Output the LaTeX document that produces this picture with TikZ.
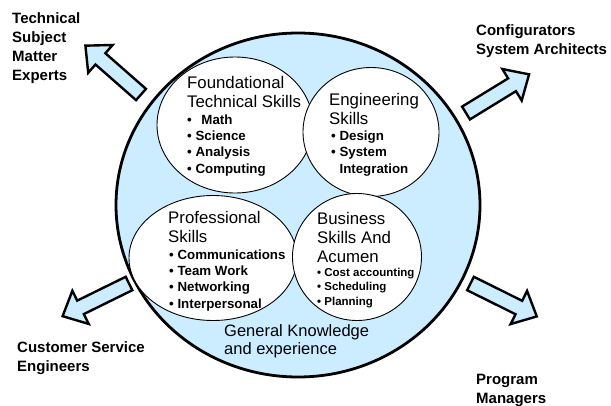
\documentclass[tikz,border=0pt]{standalone}
\usepackage{fontspec}
\setmainfont{Liberation Sans}
\usetikzlibrary{shapes.geometric}
\definecolor{skyfill}{HTML}{CCECFF}
\tikzset{
  outerring/.style={ellipse, draw=black, line width=2.8pt, fill=skyfill, inner sep=0pt},
  skillbub/.style={ellipse, draw=black, line width=0.9pt, fill=white, inner sep=0pt},
  arrowbody/.style={draw=black, line width=2.4pt, fill=skyfill, line join=miter},
  rolelabel/.style={anchor=base west, align=left, inner sep=0pt, font=\fontsize{15}{19}\selectfont\bfseries},
  headtext/.style={anchor=base west, align=left, inner sep=0pt, font=\fontsize{16.8}{18.7}\selectfont},
  bullettext/.style={anchor=base west, align=left, inner sep=0pt, font=\fontsize{13.3}{16.3}\selectfont\bfseries},
  smallbullet/.style={anchor=base west, align=left, inner sep=0pt, font=\fontsize{11.5}{14.5}\selectfont\bfseries},
  generaltext/.style={anchor=base west, align=left, inner sep=0pt, font=\fontsize{16.5}{17.5}\selectfont},
  pics/blockarrow/.style={code={
    \draw[arrowbody] (0,-7.5) -- (54,-7.5) -- (54,-18.5) -- (74,0) -- (54,18.5) -- (54,7.5) -- (0,7.5) -- cycle;
  }}
}
\begin{document}
\begin{tikzpicture}[x=1pt, y=-1pt]
\useasboundingbox (0,0) rectangle (611,405);

% outer ring
\node[outerring, minimum width=364pt, minimum height=344pt] (ring) at (298,205) {};

% skill bubbles
\node[skillbub, minimum width=156pt, minimum height=136pt] (foundbub) at (235,125) {};
\node[skillbub, minimum width=136pt, minimum height=129pt] (engbub) at (371,132) {};
\node[skillbub, minimum width=168pt, minimum height=125pt] (profbub) at (213,258) {};
\node[skillbub, minimum width=129pt, minimum height=127pt] (busbub) at (357,257) {};

% arrows
\pic[rotate=138.7] (armTL) at (141,94.5) {blockarrow};
\pic[rotate=31.5] (armTR) at (466,113) {blockarrow};
\pic[rotate=206.2] (armBL) at (129,283.5) {blockarrow};
\pic[rotate=-26.4] (armBR) at (470.5,283.5) {blockarrow};

% bubble texts (anchor = baseline of the last line)
\node[headtext] (foundhead) at (187,107) {Foundational\\Technical Skills};
\node[bullettext] (foundlist) at (187,173) {•\ \ \,Math\\• Science\\• Analysis\\• Computing};

\node[headtext] (enghead) at (329,124) {Engineering\\Skills};
\node[bullettext] (englist) at (331,173) {• Design\\• System\\\phantom{• }Integration};

\node[headtext] (profhead) at (168,242) {Professional\\Skills};
\node[bullettext] (proflist) at (169,308) {• Communications\\• Team Work\\• Networking\\• Interpersonal};

\node[headtext] (bushead) at (317,262) {Business\\Skills And\\Acumen};
\node[smallbullet] (buslist) at (317,305) {• Cost accounting\\• Scheduling\\• Planning};

\node[generaltext] (general) at (224,354) {General Knowledge\\and experience};

% role labels
\node[rolelabel] (smeLabel) at (12,80) {Technical\\Subject\\Matter\\Experts};
\node[rolelabel] (archLabel) at (476,54) {Configurators\\System Architects};
\node[rolelabel] (cseLabel) at (17,371) {Customer Service\\Engineers};
\node[rolelabel] (pmLabel) at (476,403) {Program\\Managers};
\end{tikzpicture}
\end{document}
